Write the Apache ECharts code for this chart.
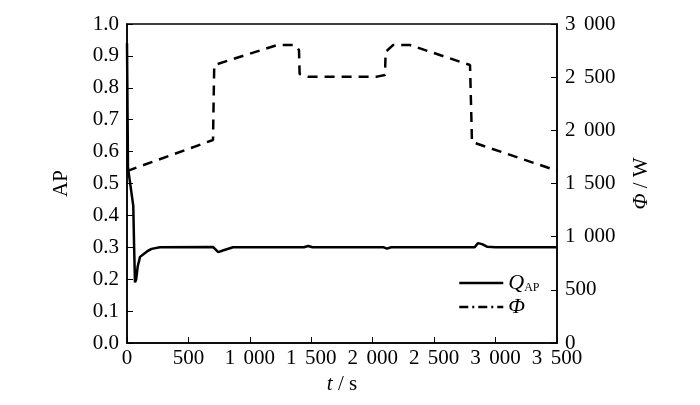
<!DOCTYPE html>
<html><head><meta charset="utf-8">
<script src="https://cdn.jsdelivr.net/npm/echarts@6/dist/echarts.min.js"></script>
<style>html,body{margin:0;padding:0;background:#fff}#c{width:700px;height:405px}</style>
</head><body><div id="c"></div>
<script>
// time (s) and AP values for Q_AP
const tQ = [0, 8, 51, 58, 65, 75, 87, 106, 163, 200, 268, 700, 716, 743, 780, 863, 1440, 1475, 1510, 2090, 2116, 2150, 2830, 2857, 2890, 2930, 3000, 3500];
const vQ = [0.94, 0.55, 0.43, 0.30, 0.19, 0.20, 0.24, 0.27, 0.287, 0.295, 0.30, 0.301, 0.303, 0.285, 0.29, 0.30, 0.30, 0.304, 0.30, 0.30, 0.296, 0.30, 0.30, 0.313, 0.31, 0.302, 0.30, 0.30];
// time (s) and heat flux Φ (W)
const tPhi = [0, 700, 710, 1221, 1367, 1400, 1405, 1473, 2035, 2100, 2105, 2165, 2303, 2792, 2808, 3500];
const vPhi = [1617, 1909, 2614, 2802, 2802, 2755, 2530, 2505, 2505, 2520, 2737, 2802, 2802, 2614, 1890, 1620];

const fmtK = v => v >= 1000 ? Math.floor(v / 1000) + '\u2009\u2009' + String(v % 1000).padStart(3, '0') : String(v);
const FONT = '"Liberation Serif", "Times New Roman", serif';
const FS = 21;

const chart = echarts.init(document.getElementById('c'), null, {renderer: 'canvas'});
chart.setOption({
  animation: false,
  backgroundColor: '#fff',
  textStyle: {fontFamily: FONT, color: '#000'},
  grid: {left: 127, right: 143, top: 24, bottom: 62, show: true, borderColor: '#000', borderWidth: 1.5},
  legend: {
    orient: 'vertical', left: 453, top: 267, itemWidth: 44, itemHeight: 16, itemGap: 2,
    data: [
      {name: 'QAP', itemStyle: {opacity: 0}, lineStyle: {type: 'solid', width: 2.5, color: '#000'}},
      {name: 'Phi', itemStyle: {opacity: 0}, lineStyle: {type: [9, 4, 2, 4], width: 2.5, color: '#000'}}
    ],
    formatter: n => n === 'QAP' ? '{q|Q}{s|AP}' : '{q|Φ}',
    textStyle: {fontFamily: FONT, color: '#000',
      rich: {q: {fontSize: 22, fontStyle: 'italic', fontFamily: FONT}, s: {fontSize: 12, fontFamily: FONT, verticalAlign: 'bottom', padding: [7, 0, 0, 0]}}}
  },
  xAxis: {
    type: 'value', min: 0, max: 3500, interval: 500,
    name: '{i|t} / s', nameLocation: 'middle', nameGap: 30,
    nameTextStyle: {fontSize: FS, fontFamily: FONT, color: '#000', rich: {i: {fontStyle: 'italic', fontSize: FS, fontFamily: FONT}}},
    axisLine: {lineStyle: {color: '#000', width: 1.5}},
    axisTick: {inside: true, length: 6, lineStyle: {color: '#000'}},
    axisLabel: {fontSize: FS, color: '#000', fontFamily: FONT, margin: 5, formatter: v => fmtK(v)},
    splitLine: {show: false}
  },
  yAxis: [{
    type: 'value', min: 0, max: 1, interval: 0.1,
    name: 'AP', nameLocation: 'middle', nameGap: 55, nameRotate: 90,
    nameTextStyle: {fontSize: FS, fontFamily: FONT, color: '#000'},
    axisLine: {show: true, lineStyle: {color: '#000', width: 1.5}},
    axisTick: {show: true, inside: true, length: 6, lineStyle: {color: '#000'}},
    axisLabel: {fontSize: FS, color: '#000', fontFamily: FONT, margin: 8, formatter: v => v.toFixed(1)},
    splitLine: {show: false}
  }, {
    type: 'value', min: 0, max: 3000, interval: 500, position: 'right',
    name: '{i|Φ} / W', nameLocation: 'middle', nameGap: 74, nameRotate: 90,
    nameTextStyle: {fontSize: FS, fontFamily: FONT, color: '#000', rich: {i: {fontStyle: 'italic', fontSize: FS, fontFamily: FONT}}},
    axisLine: {show: true, lineStyle: {color: '#000', width: 1.5}},
    axisTick: {show: true, inside: true, length: 6, lineStyle: {color: '#000'}},
    axisLabel: {fontSize: FS, color: '#000', fontFamily: FONT, margin: 8, formatter: v => fmtK(v)},
    splitLine: {show: false}
  }],
  series: [{
    name: 'QAP', type: 'line', yAxisIndex: 0, symbol: 'none', smooth: false,
    lineStyle: {color: '#000', width: 2.5}, itemStyle: {color: '#000'},
    data: tQ.map((t, i) => [t, vQ[i]])
  }, {
    name: 'Phi', type: 'line', yAxisIndex: 1, symbol: 'none',
    lineStyle: {color: '#000', width: 2.5, type: [10, 7]}, itemStyle: {color: '#000'},
    data: tPhi.map((t, i) => [t, vPhi[i]])
  }]
});
</script></body></html>
